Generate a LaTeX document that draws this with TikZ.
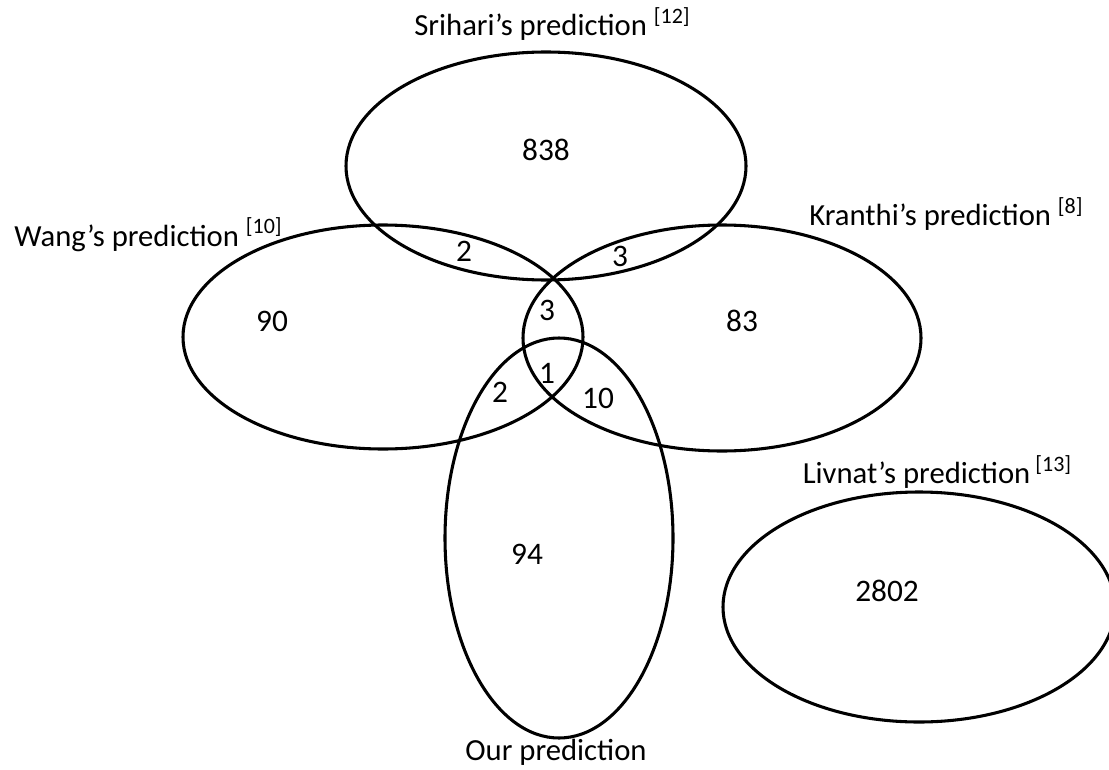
\documentclass[tikz,border=0pt]{standalone}
\usepackage{fontspec}
\setmainfont{Carlito}
\usetikzlibrary{shapes.geometric}
\tikzset{
  venn/.style={draw=black, line width=2.3pt, ellipse, inner sep=0pt, outer sep=0pt},
  num/.style={font=\fontsize{23.5}{27}\selectfont, inner sep=0pt},
  title/.style={font=\fontsize{23}{27}\selectfont, inner sep=0pt},
}
\newcommand{\refsup}[1]{\raisebox{0.42em}{\fontsize{16.5}{18}\selectfont[#1]}}
\begin{document}
\begin{tikzpicture}[x=0.75pt,y=-0.75pt]
\useasboundingbox (0,0) rectangle (1109,770);
% sets
\node[venn, minimum width=300pt, minimum height=171pt] (sri) at (546,166) {};
\node[venn, minimum width=300pt, minimum height=168pt] (wang) at (383,337) {};
\node[venn, minimum width=298.5pt, minimum height=169.5pt] (kra) at (722,338) {};
\node[venn, minimum width=171pt, minimum height=300pt] (our) at (559,538) {};
\node[venn, minimum width=294pt, minimum height=172.5pt] (liv) at (919,607) {};
% titles
\node[title] (tsri) at (552,24) {Srihari’s prediction \refsup{12}};
\node[title] (twang) at (148,235) {Wang’s prediction \refsup{10}};
\node[title] (tkra) at (946,214) {Kranthi’s prediction \refsup{8}};
\node[title] (tliv) at (937,472) {Livnat’s prediction\,\refsup{13}};
\node[title] (tour) at (556,752) {Our prediction};
% counts
\node[num] (n838) at (546,150) {838};
\node[num] (n2a) at (464,251) {2};
\node[num] (n3a) at (620,256) {3};
\node[num] (n90) at (272,321) {90};
\node[num] (n3b) at (547,310) {3};
\node[num] (n1) at (547,373) {1};
\node[num] (n2b) at (500,392) {2};
\node[num] (n10) at (598,398) {10};
\node[num] (n83) at (742,321) {83};
\node[num] (n94) at (527,554) {94};
\node[num] (n2802) at (887,591) {2802};
\end{tikzpicture}
\end{document}
